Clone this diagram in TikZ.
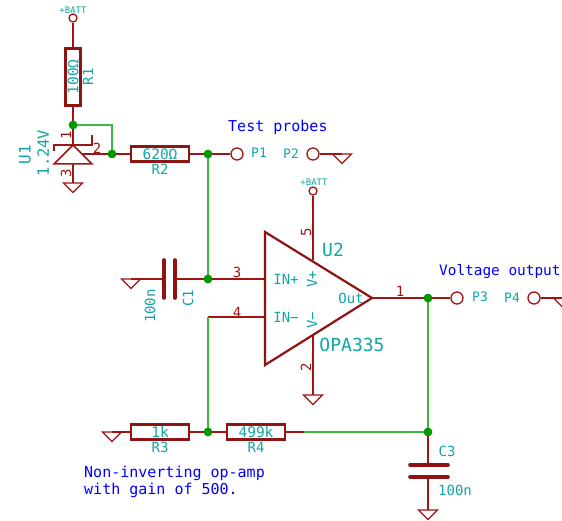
\documentclass[tikz,border=0pt]{standalone}
\usepackage{fontspec}
\setmainfont{DejaVu Sans Mono}
\usetikzlibrary{arrows}
\definecolor{wirered}{HTML}{A01414}
\definecolor{wiregreen}{HTML}{3DB83D}
\definecolor{dotgreen}{HTML}{009900}
\definecolor{refteal}{HTML}{12A5A5}

\begin{document}
\begin{tikzpicture}[x=1pt,y=-1pt,
	wire/.style={draw=wirered,line width=1.3pt},
	net/.style={draw=wiregreen,line width=1.3pt},
	res/.style={draw=wirered!90!black,line width=2.2pt,rectangle,inner sep=0pt,minimum width=58pt,minimum height=15pt,text=refteal,font=\fontsize{14.5}{14.5}\selectfont},
	dot/.style={circle,fill=dotgreen,inner sep=0pt,minimum size=8.5pt},
	pad/.style={circle,draw=wirered,line width=1.3pt,inner sep=0pt,minimum size=12pt},
	pwr/.style={pad,minimum size=8pt},
	plate/.style={draw=wirered!90!black,line width=3.6pt,line cap=round},
	lbl/.style={text=refteal,font=\fontsize{14}{14}\selectfont,inner sep=0pt},
	big/.style={lbl,font=\fontsize{18}{18}\selectfont},
	tiny/.style={lbl,font=\fontsize{9}{9}\selectfont},
	pin/.style={text=wirered,font=\fontsize{14}{14}\selectfont,inner sep=0pt},
	note/.style={text=blue,font=\fontsize{15}{17}\selectfont,inner sep=0pt},
	gnd/.pic={\draw[wirered,line width=1.3pt] (-9.5,0) -- (9.5,0) -- (0,9.5) -- cycle;}]
	\clip (0,0) rectangle (562,521);
	\fill[white] (0,0) rectangle (562,521);

	% battery branch and reference
	\node[pwr](BATa) at (73,18){};
	\node[res,rotate=90,minimum width=57pt](R1) at (73,77){100Ω};
	\node[dot](J1) at (73,125){};
	\node[dot](J2) at (112,154){};
	\node[res](R2) at (160,154){620Ω};
	\node[dot](J3) at (208,154){};
	\node[pad](P1) at (237,154){};
	\node[pad](P2) at (313,154){};
	\coordinate (Ua) at (73,145);
	\coordinate (Ub) at (83,154);
	\coordinate (Uc) at (73,164);
	\coordinate (Ga) at (73,183);
	\coordinate (Gb) at (342,154);

	% op-amp stage
	\node[pwr](BATb) at (313,191){};
	\coordinate (Va) at (313,260);
	\coordinate (Vb) at (313,336);
	\coordinate (Ina) at (265,279);
	\coordinate (Inb) at (265,317);
	\coordinate (Out) at (372,298);
	\coordinate (Jb) at (208,317);
	\coordinate (Gc) at (313,395);
	\coordinate (Gd) at (131,279);
	\coordinate (Ca) at (164,279);
	\coordinate (Cb) at (175,279);
	\node[dot](J4) at (208,279){};
	\node[dot](J5) at (428,298){};
	\node[pad](P3) at (457,298){};
	\node[pad](P4) at (534,298){};
	\coordinate (Ge) at (563,298);

	% feedback
	\node[res](R3) at (160,432){1k};
	\node[res](R4) at (256,432){499k};
	\node[dot](J6) at (208,432){};
	\node[dot](J7) at (428,432){};
	\coordinate (Gf) at (112,432);
	\coordinate (Cc) at (428,465);
	\coordinate (Cd) at (428,477);
	\coordinate (Gg) at (428,510);
	\coordinate (Jw) at (304,432);

	\path[wire] (BATa) edge (R1.east)
	            (R1.west) edge (J1)
	            (J1) edge (Ua)
	            (Ub) edge (J2)
	            (J2) edge (R2)
	            (Uc) edge (Ga)
	            (R2) edge (J3)
	            (J3) edge (P1)
	            (P2) edge (Gb)
	            (BATb) edge (Va)
	            (Vb) edge (Gc)
	            (Ina) edge (J4)
	            (Gd) edge (Ca)
	            (Cb) edge (J4)
	            (Inb) edge (Jb)
	            (Out) edge (J5)
	            (J5) edge (P3)
	            (P4) edge (Ge)
	            (Gf) edge (R3)
	            (R3) edge (J6)
	            (J6) edge (R4)
	            (R4) edge (Jw)
	            (J7) edge (Cc)
	            (Cd) edge (Gg);
	\path[net] (J1) -| (J2)
	           (J3) edge (J4)
	           (Jb) edge (J6)
	           (J5) edge (J7)
	           (Jw) edge (J7);

	% symbols
	\draw[wirered,line width=1.5pt] (Ua) -- (92,164) -- (54,164) -- cycle;
	\draw[wirered,line width=1.5pt] (54,151) -- (54,145) -- (92,145) -- (92,135);
	\draw[wirered!90!black,line width=2.2pt,line join=miter] (265,232) -- (265,365) -- (Out) -- cycle;
	\draw[plate] (164,260) -- (164,298);
	\draw[plate] (175,260) -- (175,298);
	\draw[plate] (410,465) -- (448,465);
	\draw[plate] (410,477) -- (448,477);
	\pic at (Ga) {gnd};
	\pic at (Gb) {gnd};
	\pic at (Gc) {gnd};
	\pic at (Gd) {gnd};
	\pic at (Ge) {gnd};
	\pic at (Gf) {gnd};
	\pic at (Gg) {gnd};
	\node[dot] at (J1){};
	\node[dot] at (J2){};
	\node[dot] at (J3){};
	\node[dot] at (J4){};
	\node[dot] at (J5){};
	\node[dot] at (J6){};
	\node[dot] at (J7){};

	% labels
	\node[tiny] (BATat) at (73,10){+BATT};
	\node[tiny] (BATbt) at (314,182){+BATT};
	\node[lbl,rotate=90] (R1t) at (88,77){R1};
	\node[lbl] (R2t) at (160,169){R2};
	\node[lbl] (R3t) at (160,447){R3};
	\node[lbl] (R4t) at (256,447){R4};
	\node[lbl,rotate=90,font=\fontsize{16}{16}\selectfont] (U1t) at (25,155){U1};
	\node[lbl,rotate=90,font=\fontsize{15.5}{15.5}\selectfont] (U1v) at (43,153){1.24V};
	\node[lbl,rotate=90] (C1t) at (188,298){C1};
	\node[lbl,rotate=90] (C1v) at (150,306){100n};
	\node[lbl] (C3t) at (447,451){C3};
	\node[lbl] (C3v) at (455,490){100n};
	\node[lbl,font=\fontsize{13}{13}\selectfont] (P1t) at (259,153){P1};
	\node[lbl,font=\fontsize{13}{13}\selectfont] (P2t) at (291,154){P2};
	\node[lbl,font=\fontsize{13}{13}\selectfont] (P3t) at (480,297){P3};
	\node[lbl,font=\fontsize{13}{13}\selectfont] (P4t) at (512,298){P4};
	\node[big] (U2t) at (333,250){U2};
	\node[big] (U2v) at (352,345){OPA335};
	\node[lbl] (INa) at (286,279){IN+};
	\node[lbl] (INb) at (286,317){IN−};
	\node[lbl,rotate=90] (Vpt) at (312,279){V+};
	\node[lbl,rotate=90] (Vmt) at (312,320){V−};
	\node[lbl] (Ott) at (351,298){Out};
	\node[pin,rotate=90] (p1a) at (66,135){1};
	\node[pin] (p2a) at (97,148){2};
	\node[pin,rotate=90] (p3a) at (66,173){3};
	\node[pin] (p3b) at (237,272){3};
	\node[pin] (p4b) at (237,312){4};
	\node[pin,rotate=90] (p5b) at (306,232){5};
	\node[pin,rotate=90] (p2b) at (306,367){2};
	\node[pin] (p1b) at (400,291){1};
	\node[note,anchor=west] (probes) at (228,127){Test probes};
	\node[note,anchor=west,font=\fontsize{14.4}{17}\selectfont] (output) at (439,272){Voltage output};
	\node[note,anchor=north west,align=left] (gain) at (84,466){Non-inverting op-amp\\with gain of 500.};
\end{tikzpicture}
\end{document}
